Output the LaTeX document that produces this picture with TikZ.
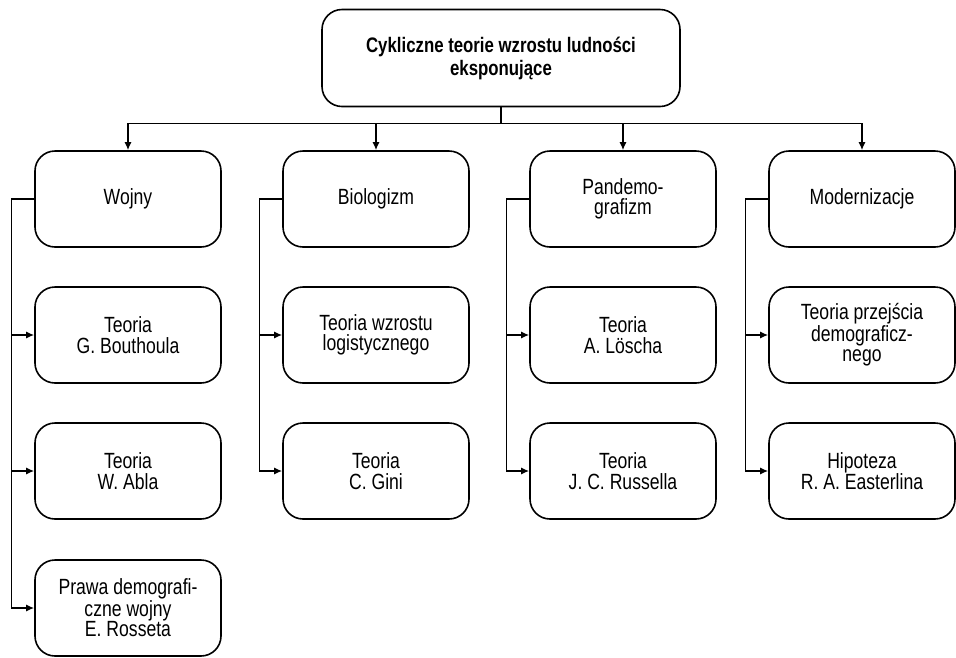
\documentclass[tikz,border=0pt]{standalone}
\usepackage{fontspec}
\setmainfont{Liberation Sans}[FakeStretch=0.8]
\usetikzlibrary{arrows.meta}
\usetikzlibrary{positioning}

\tikzset{
  box/.style={draw, line width=1.6pt, rounded corners=20pt,
    minimum width=186pt, minimum height=96pt, align=center,
    font=\fontsize{22}{20.5}\selectfont},
  titlebox/.style={box, minimum width=358pt, minimum height=97pt,
    font=\fontsize{21}{23}\selectfont\bfseries},
  link/.style={line width=1.4pt},
  arr/.style={link, -{Latex[length=8pt,width=7pt]}}
}

\begin{document}
\begin{tikzpicture}[x=1pt,y=-1pt]
  \useasboundingbox (0,0) rectangle (956,657);

  % glowny wezel
  \node[titlebox] (top) at (501,58) {Cykliczne teorie wzrostu ludności\\eksponujące};

  % kolumny
  \node[box] (w1) at (128,199) {Wojny};
  \node[box] (w2) at (128,335) {Teoria\\G. Bouthoula};
  \node[box] (w3) at (128,471) {Teoria\\W. Abla};
  \node[box] (w4) at (128,608) {Prawa demografi-\\czne wojny\\E. Rosseta};

  \node[box] (b1) at (376,199) {Biologizm};
  \node[box] (b2) at (376,335) {Teoria wzrostu\\logistycznego};
  \node[box] (b3) at (376,471) {Teoria\\C. Gini};

  \node[box] (p1) at (623,199) {Pandemo-\\grafizm};
  \node[box] (p2) at (623,335) {Teoria\\A. Löscha};
  \node[box] (p3) at (623,471) {Teoria\\J. C. Russella};

  \node[box] (m1) at (862,199) {Modernizacje};
  \node[box] (m2) at (862,335) {Teoria przejścia\\demograficz-\\nego};
  \node[box] (m3) at (862,471) {Hipoteza\\R. A. Easterlina};

  % szyna pozioma
  \draw[link] (top.south) -- ++(0,16) coordinate (bar);
  \draw[link] (w1.north |- bar) -- (m1.north |- bar);
  \draw[arr] (w1.north |- bar) -- (w1.north);
  \draw[arr] (b1.north |- bar) -- (b1.north);
  \draw[arr] (p1.north |- bar) -- (p1.north);
  \draw[arr] (m1.north |- bar) -- (m1.north);

  % szyny boczne
  \draw[link] (w1.west) -- ++(-23,0) coordinate (wr);
  \draw[arr] (wr |- w2.west) -- (w2.west);
  \draw[arr] (wr |- w3.west) -- (w3.west);
  \draw[arr] (wr) |- (w4.west);

  \draw[link] (b1.west) -- ++(-23,0) coordinate (br);
  \draw[arr] (br |- b2.west) -- (b2.west);
  \draw[arr] (br) |- (b3.west);

  \draw[link] (p1.west) -- ++(-23,0) coordinate (pr);
  \draw[arr] (pr |- p2.west) -- (p2.west);
  \draw[arr] (pr) |- (p3.west);

  \draw[link] (m1.west) -- ++(-23,0) coordinate (mr);
  \draw[arr] (mr |- m2.west) -- (m2.west);
  \draw[arr] (mr) |- (m3.west);
\end{tikzpicture}
\end{document}
